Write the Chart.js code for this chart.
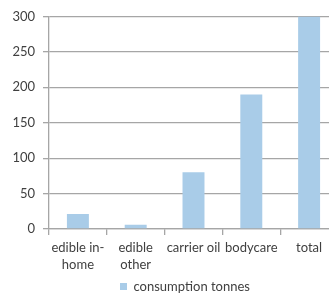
<!DOCTYPE html>
<html>
<head>
<meta charset="utf-8">
<script src="https://cdn.jsdelivr.net/npm/chart.js@4"></script>
<style>
  html, body { margin: 0; padding: 0; background: #fff; overflow: hidden; }
  #wrap { width: 338px; height: 295px; }
</style>
</head>
<body>
<div id="wrap"><canvas id="myChart" width="338" height="295"></canvas></div>
<script>
const categories = [['edible in-', 'home'], ['edible', 'other'], 'carrier oil', 'bodycare', 'total'];
const consumption = [21, 6, 80, 190, 300];
const yTicks = [0, 50, 100, 150, 200, 250, 300];

const gridGrey = '#a6a6a6';
const textGrey = '#404040';
const font = { family: 'Lato', size: 13, lineHeight: 1.3 };

const ctx = document.getElementById('myChart');

// legend sits a bit right of the canvas centre in the original
const shiftLegend = {
    id: 'shiftLegend',
    afterLayout: function (chart) {
        chart.legend.left += 16;
        chart.legend.right += 16;
    }
};

new Chart(ctx, {
    type: 'bar',
    data: {
        labels: categories,
        datasets: [{
            label: 'consumption tonnes',
            data: consumption,
            backgroundColor: '#a9cce8',
            borderWidth: 0,
            categoryPercentage: 1,
            barPercentage: 0.38
        }]
    },
    options: {
        responsive: false,
        animation: false,
        layout: { padding: { top: 16, left: 0, right: 0, bottom: -8 } },
        scales: {
            x: {
                grid: { drawOnChartArea: false, drawTicks: true, tickLength: 6, color: gridGrey, lineWidth: 1.3 },
                border: { color: gridGrey, width: 1.3 },
                ticks: { color: textGrey, font: font, maxRotation: 0, autoSkip: false, padding: 4 },
                afterFit: function (scale) { scale.height = 48; }
            },
            y: {
                min: 0,
                max: 300,
                afterBuildTicks: function (scale) { scale.ticks = yTicks.map(v => ({ value: v })); },
                grid: { color: gridGrey, lineWidth: 1.3, tickLength: 6 },
                border: { color: gridGrey, width: 1.3 },
                ticks: { color: textGrey, font: font, padding: 8 },
                afterFit: function (scale) { scale.width = 49; }
            }
        },
        plugins: {
            legend: {
                position: 'bottom',
                labels: {
                    color: textGrey,
                    font: font,
                    boxWidth: 7,
                    boxHeight: 7,
                    padding: 3
                }
            },
            tooltip: { enabled: false }
        }
    },
    plugins: [shiftLegend]
});
</script>
</body>
</html>
